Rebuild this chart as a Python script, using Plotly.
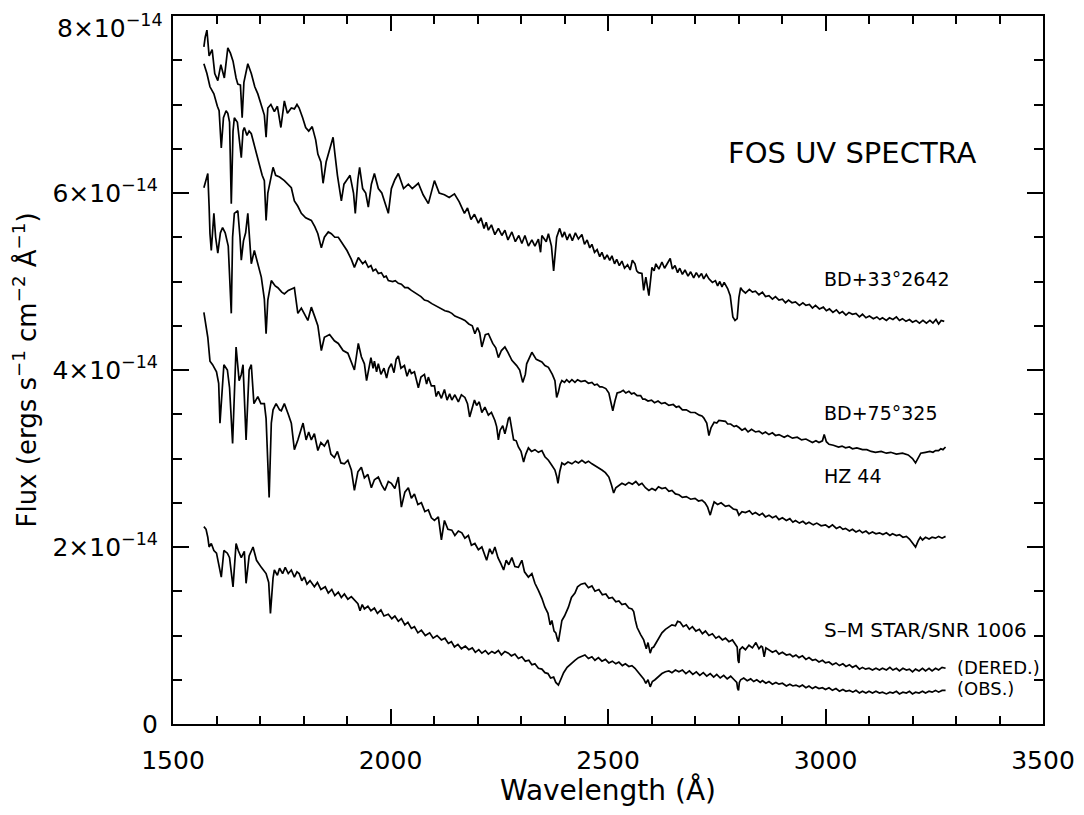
import plotly.graph_objects as go

# ---- data: (wavelength [A], flux [1e-14 erg s-1 cm-2 A-1]) ----
bd33 = [(1571,7.65),(1574,7.76),(1578,7.84),(1583,7.55),(1590,7.62),(1596,7.35),(1603,7.27),(1610,7.45),
        (1618,7.30),(1626,7.64),(1632,7.58),(1638,7.49),(1645,7.30),(1649,7.23),(1655,7.22),(1659,6.85),
        (1663,7.25),(1672,7.46),(1680,7.35),(1688,7.20),(1695,7.12),(1702,7.00),(1710,6.88),(1714,6.63),
        (1718,6.96),(1725,7.00),(1733,6.92),(1740,6.98),(1748,6.74),(1756,7.04),(1763,6.90),(1772,6.96),
        (1779,6.95),(1785,7.00),(1790,6.96),(1798,6.85),(1805,6.74),(1812,6.70),(1820,6.75),(1828,6.60),
        (1833,6.44),(1840,6.35),(1845,6.11),(1852,6.35),(1860,6.50),(1868,6.63),(1872,6.45),(1878,6.20),
        (1887,5.91),(1893,6.10),(1900,6.15),(1907,6.20),(1915,6.00),(1919,5.77),(1925,6.15),(1929,6.29),
        (1936,6.05),(1943,6.00),(1949,5.84),(1956,6.10),(1963,6.22),(1972,6.05),(1980,6.00),(1986,5.90),
        (1995,5.77),(2002,6.05),(2010,6.15),(2018,6.22),(2030,6.05),(2041,6.10),(2050,6.05),(2064,6.11),
        (2075,5.98),(2087,5.88),(2095,6.05),(2101,6.14),(2112,6.00),(2124,5.98),(2135,5.95),(2147,5.99),
        (2158,5.90),(2170,5.77),(2177,5.83),(2185,5.70),(2193,5.76),(2202,5.66),(2208,5.72),(2215,5.60),
        (2220,5.67),(2225,5.58),(2232,5.64),(2240,5.53),(2248,5.60),(2256,5.52),(2263,5.58),(2270,5.47),
        (2279,5.56),(2287,5.45),(2295,5.52),(2302,5.43),(2309,5.52),(2317,5.40),(2325,5.47),(2332,5.40),
        (2340,5.48),(2345,5.33),(2348,5.52),(2358,5.45),(2363,5.54),(2370,5.40),(2375,5.12),(2379,5.40),
        (2382,5.50),(2389,5.60),(2395,5.50),(2400,5.56),(2406,5.47),(2412,5.54),(2418,5.46),(2425,5.55),
        (2432,5.48),(2440,5.53),(2446,5.42),(2452,5.47),(2458,5.38),(2463,5.42),(2469,5.33),(2475,5.36),
        (2481,5.28),(2486,5.33),(2492,5.25),(2498,5.30),(2504,5.24),(2509,5.29),(2515,5.20),(2520,5.25),
        (2526,5.18),(2532,5.23),(2538,5.15),(2545,5.19),(2551,5.13),(2556,5.24),(2562,5.20),(2566,5.12),
        (2570,5.10),(2578,5.09),(2582,4.90),(2587,5.05),(2594,4.84),(2601,5.16),(2606,5.12),(2610,5.20),
        (2617,5.14),(2624,5.22),(2630,5.15),(2636,5.20),(2643,5.26),(2648,5.14),(2654,5.18),(2660,5.10),
        (2665,5.15),(2671,5.08),(2677,5.13),(2684,5.06),(2690,5.11),(2697,5.04),(2703,5.10),(2709,5.05),
        (2715,5.09),(2720,5.03),(2726,5.08),(2732,5.03),(2740,4.99),(2747,5.01),(2752,4.95),(2757,5.00),
        (2762,4.94),(2767,4.99),(2775,4.92),(2781,4.84),(2787,4.60),(2792,4.56),(2797,4.58),(2801,4.82),
        (2805,4.93),(2809,4.90),(2816,4.87),(2825,4.91),(2832,4.88),(2839,4.89),(2847,4.85),(2855,4.88),
        (2862,4.83),(2870,4.84),(2878,4.80),(2885,4.83),(2893,4.79),(2901,4.80),(2908,4.76),(2915,4.79),
        (2923,4.76),(2931,4.77),(2940,4.73),(2948,4.76),(2955,4.73),(2963,4.74),(2970,4.70),(2977,4.73),
        (2986,4.69),(2995,4.71),(3002,4.67),(3009,4.69),(3017,4.65),(3025,4.68),(3032,4.64),(3039,4.66),
        (3047,4.62),(3054,4.65),(3062,4.63),(3070,4.64),(3078,4.60),(3085,4.63),(3093,4.59),(3101,4.61),
        (3110,4.58),(3118,4.60),(3125,4.57),(3131,4.59),(3140,4.56),(3147,4.59),(3155,4.57),(3163,4.60),
        (3170,4.56),(3177,4.58),(3185,4.55),(3193,4.57),(3200,4.54),(3208,4.56),(3216,4.53),(3224,4.56),
        (3232,4.53),(3240,4.56),(3247,4.53),(3254,4.57),(3260,4.52),(3266,4.56),(3273,4.55)]

bd75 = [(1571,7.46),(1578,7.35),(1585,7.20),(1594,7.12),(1602,6.98),(1606,6.93),(1611,6.51),(1616,6.85),
        (1622,6.93),(1626,6.90),(1630,6.80),(1634,5.88),(1638,6.70),(1641,6.85),(1648,6.80),(1652,6.60),
        (1657,6.40),(1661,6.70),(1664,6.74),(1670,6.65),(1675,6.70),(1680,6.67),(1686,6.55),(1692,6.45),
        (1697,6.33),(1705,6.20),(1710,6.14),(1714,5.69),(1718,6.00),(1722,6.10),(1730,6.29),(1736,6.20),
        (1745,6.18),(1756,6.14),(1765,6.10),(1772,6.06),(1779,5.91),(1787,5.85),(1795,5.77),(1805,5.72),
        (1818,5.69),(1826,5.62),(1833,5.54),(1841,5.38),(1848,5.50),(1857,5.56),(1864,5.54),(1872,5.50),
        (1880,5.50),(1890,5.43),(1900,5.35),(1910,5.25),(1917,5.16),(1926,5.27),(1936,5.20),(1942,5.23),
        (1949,5.16),(1955,5.18),(1960,5.12),(1966,5.14),(1972,5.09),(1979,5.10),(1985,5.05),(1990,5.06),
        (1995,5.01),(2005,5.00),(2011,5.01),(2018,4.98),(2025,4.97),(2033,4.93),(2040,4.93),(2048,4.90),
        (2055,4.88),(2063,4.85),(2070,4.83),(2078,4.79),(2086,4.78),(2095,4.75),(2102,4.73),(2110,4.71),
        (2118,4.69),(2125,4.67),(2133,4.66),(2141,4.64),(2148,4.61),(2155,4.60),(2163,4.58),(2171,4.56),
        (2180,4.52),(2188,4.50),(2194,4.41),(2200,4.48),(2205,4.42),(2210,4.26),(2218,4.40),(2225,4.41),
        (2235,4.30),(2242,4.25),(2248,4.14),(2255,4.22),(2263,4.26),(2270,4.20),(2279,4.11),(2290,4.05),
        (2297,4.00),(2304,3.86),(2310,3.95),(2313,4.07),(2320,4.14),(2325,4.20),(2335,4.12),(2348,4.09),
        (2355,4.05),(2363,4.03),(2372,3.95),(2378,3.88),(2382,3.69),(2386,3.75),(2390,3.84),(2394,3.88),
        (2400,3.86),(2405,3.89),(2411,3.86),(2417,3.89),(2424,3.86),(2430,3.89),(2438,3.87),(2447,3.88),
        (2455,3.85),(2463,3.86),(2469,3.83),(2475,3.84),(2481,3.81),(2486,3.81),(2495,3.79),(2502,3.74),
        (2506,3.65),(2511,3.54),(2516,3.65),(2521,3.74),(2528,3.75),(2535,3.77),(2541,3.74),(2548,3.76),
        (2554,3.73),(2560,3.74),(2567,3.71),(2575,3.71),(2580,3.67),(2585,3.67),(2592,3.65),(2600,3.66),
        (2607,3.63),(2615,3.65),(2623,3.62),(2631,3.63),(2640,3.60),(2650,3.61),(2657,3.58),(2663,3.59),
        (2671,3.55),(2680,3.55),(2690,3.52),(2700,3.52),(2710,3.49),(2716,3.48),(2720,3.46),(2727,3.40),
        (2732,3.26),(2737,3.35),(2744,3.41),(2750,3.40),(2755,3.43),(2763,3.42),(2770,3.42),(2775,3.39),
        (2782,3.39),(2790,3.36),(2795,3.37),(2801,3.35),(2808,3.32),(2815,3.34),(2822,3.30),(2830,3.33),
        (2839,3.30),(2847,3.31),(2855,3.28),(2862,3.30),(2870,3.27),(2878,3.29),(2885,3.26),(2893,3.27),
        (2905,3.24),(2913,3.26),(2924,3.23),(2935,3.24),(2945,3.21),(2955,3.22),(2970,3.18),(2978,3.20),
        (2985,3.18),(2993,3.20),(2997,3.27),(3002,3.19),(3008,3.16),(3018,3.15),(3030,3.13),(3038,3.14),
        (3046,3.12),(3055,3.13),(3062,3.11),(3072,3.12),(3085,3.10),(3095,3.10),(3105,3.08),(3115,3.07),
        (3128,3.08),(3140,3.06),(3150,3.07),(3163,3.05),(3177,3.06),(3190,3.04),(3200,3.00),(3207,2.95),
        (3213,3.00),(3219,3.06),(3230,3.07),(3240,3.08),(3247,3.07),(3253,3.09),(3260,3.09),(3265,3.11),
        (3270,3.10),(3276,3.13)]

hz44 = [(1571,6.06),(1576,6.15),(1580,6.22),(1583,5.85),(1585,5.54),(1588,5.35),(1592,5.70),(1594,5.77),
        (1598,5.50),(1603,5.32),(1609,5.55),(1614,5.61),(1620,5.55),(1627,5.40),(1634,4.64),(1637,5.50),
        (1641,5.77),(1649,5.80),(1654,5.50),(1657,5.24),(1662,5.46),(1667,5.55),(1672,5.77),(1676,5.45),
        (1680,5.20),(1687,5.35),(1695,5.20),(1703,5.05),(1710,4.80),(1714,4.41),(1718,4.79),(1726,5.01),
        (1735,4.95),(1741,4.93),(1750,4.88),(1756,4.86),(1765,4.90),(1779,4.93),(1787,4.64),(1795,4.70),
        (1810,4.56),(1818,4.71),(1826,4.60),(1833,4.50),(1841,4.22),(1848,4.37),(1860,4.40),(1871,4.33),
        (1880,4.30),(1891,4.22),(1902,4.19),(1910,4.10),(1917,4.00),(1926,4.30),(1933,4.15),(1940,4.07),
        (1945,3.88),(1955,4.14),(1960,4.02),(1963,4.10),(1968,3.98),(1972,4.07),(1978,3.95),(1985,4.02),
        (1991,3.91),(1996,4.02),(2002,4.07),(2008,3.97),(2013,4.12),(2018,4.16),(2024,4.02),(2032,4.05),
        (2038,3.93),(2044,4.01),(2048,3.96),(2055,3.98),(2060,3.86),(2064,3.80),(2070,3.92),(2078,3.95),
        (2083,3.84),(2087,3.92),(2094,3.82),(2101,3.82),(2105,3.70),(2110,3.76),(2117,3.68),(2124,3.78),
        (2130,3.66),(2136,3.73),(2141,3.66),(2148,3.72),(2156,3.64),(2163,3.72),(2171,3.69),(2177,3.62),
        (2182,3.47),(2187,3.57),(2193,3.66),(2198,3.60),(2204,3.64),(2210,3.52),(2217,3.58),(2225,3.49),
        (2232,3.52),(2240,3.43),(2244,3.36),(2248,3.21),(2252,3.32),(2258,3.37),(2263,3.28),(2268,3.38),
        (2271,3.45),(2274,3.47),(2278,3.34),(2283,3.21),(2289,3.20),(2294,3.13),(2300,3.08),(2306,2.96),
        (2311,3.05),(2317,3.12),(2324,3.08),(2332,3.10),(2340,3.07),(2348,3.09),(2355,3.02),(2363,2.98),
        (2370,2.93),(2378,2.87),(2382,2.80),(2385,2.72),(2389,2.85),(2394,2.95),(2400,2.93),(2408,2.96),
        (2417,2.94),(2425,2.97),(2432,2.95),(2440,2.98),(2448,2.95),(2455,2.97),(2463,2.94),(2470,2.92),
        (2478,2.89),(2486,2.87),(2494,2.84),(2502,2.79),(2508,2.70),(2513,2.61),(2518,2.67),(2525,2.70),
        (2532,2.72),(2540,2.70),(2548,2.73),(2556,2.71),(2564,2.74),(2571,2.70),(2578,2.72),(2586,2.67),
        (2594,2.64),(2601,2.66),(2609,2.64),(2616,2.68),(2624,2.66),(2632,2.67),(2640,2.63),(2647,2.64),
        (2655,2.60),(2663,2.59),(2671,2.56),(2680,2.57),(2690,2.54),(2700,2.55),(2708,2.52),(2716,2.53),
        (2723,2.50),(2729,2.45),(2735,2.36),(2740,2.45),(2744,2.51),(2752,2.48),(2760,2.50),(2770,2.46),
        (2778,2.47),(2788,2.43),(2796,2.42),(2801,2.36),(2808,2.40),(2816,2.39),(2825,2.41),(2832,2.37),
        (2839,2.39),(2848,2.36),(2855,2.38),(2862,2.34),(2870,2.36),(2878,2.33),(2886,2.35),(2893,2.31),
        (2901,2.33),(2910,2.30),(2918,2.32),(2925,2.28),(2931,2.30),(2940,2.27),(2948,2.29),(2955,2.26),
        (2962,2.28),(2972,2.25),(2980,2.27),(2990,2.24),(3000,2.25),(3008,2.22),(3016,2.25),(3025,2.21),
        (3033,2.23),(3040,2.20),(3046,2.21),(3055,2.18),(3062,2.20),(3070,2.17),(3078,2.19),(3085,2.16),
        (3093,2.18),(3100,2.15),(3108,2.17),(3116,2.15),(3124,2.16),(3132,2.14),(3140,2.16),(3148,2.13),
        (3154,2.15),(3163,2.13),(3170,2.14),(3178,2.11),(3186,2.12),(3193,2.09),(3200,2.05),(3207,2.00),
        (3213,2.07),(3218,2.11),(3223,2.08),(3230,2.11),(3238,2.09),(3245,2.11),(3253,2.10),(3260,2.12),
        (3268,2.10),(3276,2.12)]

sm_dered = [(1571,4.65),(1576,4.50),(1580,4.37),(1585,4.10),(1591,4.06),(1600,3.98),(1605,3.85),(1608,3.40),
            (1612,3.75),(1617,4.06),(1625,4.00),(1630,3.80),(1637,3.17),(1645,4.26),(1652,3.88),(1657,3.95),
            (1661,4.06),(1668,3.21),(1675,4.00),(1680,4.06),(1686,3.62),(1695,3.70),(1702,3.62),(1710,3.62),
            (1714,3.45),(1721,2.56),(1726,3.40),(1730,3.55),(1737,3.62),(1745,3.55),(1749,3.54),(1756,3.62),
            (1765,3.50),(1772,3.40),(1779,3.10),(1787,3.21),(1799,3.40),(1806,3.21),(1812,3.30),(1818,3.21),
            (1825,3.28),(1833,3.09),(1840,3.18),(1848,3.14),(1856,3.21),(1863,3.05),(1871,3.01),(1878,3.08),
            (1886,2.95),(1894,2.94),(1902,2.98),(1910,2.87),(1917,2.64),(1925,2.85),(1933,2.90),(1940,2.78),
            (1948,2.82),(1956,2.67),(1963,2.76),(1972,2.79),(1980,2.70),(1987,2.64),(1995,2.74),(2002,2.72),
            (2010,2.66),(2018,2.79),(2025,2.45),(2033,2.62),(2041,2.67),(2048,2.55),(2055,2.60),(2063,2.48),
            (2071,2.50),(2079,2.40),(2087,2.42),(2094,2.33),(2101,2.30),(2110,2.34),(2117,2.08),(2124,2.30),
            (2132,2.20),(2141,2.19),(2148,2.13),(2156,2.18),(2164,2.16),(2171,2.10),(2179,2.13),(2186,2.02),
            (2194,2.04),(2202,1.97),(2210,2.00),(2215,1.93),(2221,1.85),(2228,1.98),(2234,1.92),(2240,2.00),
            (2247,1.88),(2254,1.81),(2260,1.74),(2266,1.85),(2272,1.80),(2279,1.88),(2286,1.78),(2294,1.77),
            (2302,1.85),(2308,1.72),(2317,1.66),(2325,1.70),(2332,1.59),(2340,1.51),(2348,1.42),(2355,1.32),
            (2362,1.25),(2367,1.12),(2371,1.17),(2376,1.05),(2380,1.03),(2383,0.97),(2386,0.93),(2390,1.05),
            (2394,1.17),(2400,1.22),(2409,1.32),(2416,1.43),(2424,1.48),(2430,1.55),(2438,1.58),(2447,1.59),
            (2455,1.54),(2463,1.56),(2470,1.50),(2479,1.52),(2487,1.46),(2495,1.47),(2502,1.42),(2510,1.43),
            (2518,1.38),(2525,1.39),(2532,1.35),(2540,1.36),(2548,1.31),(2555,1.30),(2559,1.27),(2563,1.17),
            (2567,1.09),(2575,1.01),(2582,0.95),(2588,0.85),(2592,0.92),(2597,0.80),(2601,0.86),(2605,0.87),
            (2612,0.93),(2618,0.98),(2624,1.03),(2632,1.07),(2640,1.10),(2647,1.12),(2655,1.11),(2660,1.16),
            (2666,1.15),(2673,1.10),(2680,1.12),(2687,1.07),(2694,1.10),(2702,1.05),(2710,1.07),(2717,1.02),
            (2724,1.05),(2732,1.00),(2740,1.02),(2748,0.97),(2755,0.99),(2763,0.95),(2770,0.97),(2778,0.93),
            (2786,0.95),(2793,0.90),(2797,0.87),(2799,0.72),(2801,0.69),(2803,0.84),(2809,0.87),(2816,0.84),
            (2824,0.89),(2832,0.86),(2840,0.92),(2847,0.85),(2852,0.88),(2855,0.87),(2859,0.76),(2863,0.86),
            (2870,0.84),(2878,0.81),(2886,0.83),(2893,0.79),(2901,0.81),(2910,0.78),(2918,0.79),(2925,0.76),
            (2932,0.78),(2939,0.75),(2947,0.77),(2955,0.73),(2962,0.75),(2970,0.72),(2977,0.73),(2985,0.70),
            (2993,0.72),(3000,0.69),(3008,0.70),(3016,0.67),(3024,0.69),(3032,0.66),(3040,0.68),(3047,0.65),
            (3055,0.67),(3062,0.64),(3070,0.66),(3078,0.62),(3085,0.64),(3092,0.62),(3100,0.63),(3108,0.61),
            (3116,0.63),(3124,0.61),(3131,0.63),(3140,0.61),(3148,0.64),(3155,0.61),(3163,0.63),(3170,0.60),
            (3178,0.63),(3186,0.61),(3193,0.62),(3200,0.59),(3207,0.62),(3215,0.60),(3223,0.63),(3230,0.60),
            (3238,0.63),(3245,0.60),(3253,0.63),(3260,0.61),(3268,0.64),(3276,0.63)]

sm_obs = [(1571,2.23),(1576,2.20),(1580,2.11),(1583,2.00),(1588,2.04),(1594,1.96),(1600,1.93),(1608,1.70),
          (1611,1.66),(1617,1.96),(1625,1.93),(1630,1.88),(1638,1.55),(1645,2.04),(1650,1.96),(1657,1.88),
          (1664,1.95),(1668,1.59),(1675,1.90),(1684,2.00),(1692,1.85),(1703,1.77),(1714,1.70),(1720,1.60),
          (1724,1.25),(1730,1.65),(1733,1.74),(1740,1.68),(1745,1.76),(1752,1.70),(1758,1.77),(1765,1.70),
          (1772,1.74),(1779,1.66),(1785,1.72),(1790,1.70),(1796,1.62),(1802,1.66),(1808,1.58),(1815,1.62),
          (1825,1.55),(1832,1.60),(1840,1.52),(1850,1.55),(1857,1.48),(1865,1.52),(1872,1.45),(1880,1.49),
          (1887,1.43),(1894,1.47),(1902,1.41),(1910,1.44),(1917,1.40),(1925,1.36),(1930,1.28),(1935,1.35),
          (1940,1.30),(1948,1.33),(1955,1.28),(1963,1.31),(1970,1.25),(1978,1.29),(1985,1.22),(1995,1.24),
          (2003,1.19),(2010,1.22),(2018,1.16),(2025,1.19),(2033,1.12),(2040,1.15),(2048,1.08),(2055,1.10),
          (2063,1.03),(2071,1.06),(2080,1.00),(2090,1.03),(2098,0.97),(2107,1.00),(2117,0.95),(2125,0.97),
          (2133,0.91),(2140,0.93),(2147,0.87),(2155,0.90),(2163,0.85),(2172,0.88),(2180,0.84),(2188,0.86),
          (2195,0.81),(2203,0.84),(2210,0.80),(2218,0.83),(2225,0.79),(2233,0.82),(2240,0.80),(2248,0.83),
          (2255,0.78),(2263,0.82),(2271,0.80),(2278,0.77),(2286,0.79),(2294,0.74),(2302,0.76),(2310,0.71),
          (2318,0.72),(2325,0.67),(2332,0.68),(2340,0.63),(2348,0.62),(2355,0.58),(2362,0.57),(2368,0.52),
          (2375,0.53),(2380,0.47),(2386,0.44),(2392,0.52),(2398,0.58),(2406,0.64),(2414,0.68),(2424,0.72),
          (2432,0.75),(2440,0.77),(2447,0.78),(2455,0.74),(2463,0.76),(2470,0.72),(2478,0.75),(2486,0.71),
          (2494,0.73),(2502,0.69),(2510,0.71),(2518,0.68),(2525,0.70),(2533,0.66),(2540,0.68),(2548,0.65),
          (2555,0.66),(2562,0.63),(2570,0.58),(2577,0.54),(2582,0.51),(2587,0.46),(2592,0.50),(2597,0.42),
          (2602,0.48),(2608,0.50),(2616,0.54),(2624,0.57),(2632,0.59),(2640,0.60),(2647,0.58),(2655,0.61),
          (2663,0.59),(2671,0.61),(2679,0.57),(2687,0.60),(2695,0.56),(2703,0.59),(2711,0.55),(2719,0.58),
          (2727,0.54),(2735,0.57),(2743,0.53),(2750,0.56),(2758,0.52),(2766,0.55),(2774,0.51),(2782,0.54),
          (2790,0.50),(2796,0.47),(2798,0.40),(2800,0.38),(2802,0.47),(2805,0.50),(2812,0.52),(2820,0.49),
          (2828,0.51),(2835,0.48),(2842,0.50),(2850,0.47),(2855,0.49),(2863,0.46),(2870,0.48),(2878,0.45),
          (2886,0.47),(2893,0.45),(2901,0.46),(2910,0.43),(2918,0.45),(2925,0.43),(2932,0.44),(2940,0.42),
          (2947,0.44),(2955,0.41),(2962,0.43),(2970,0.40),(2977,0.42),(2985,0.40),(2993,0.41),(3000,0.39),
          (3008,0.41),(3016,0.38),(3024,0.40),(3032,0.37),(3040,0.39),(3047,0.37),(3055,0.38),(3063,0.36),
          (3070,0.38),(3078,0.35),(3085,0.37),(3093,0.35),(3100,0.37),(3108,0.35),(3116,0.37),(3124,0.35),
          (3131,0.36),(3140,0.34),(3148,0.36),(3155,0.35),(3163,0.37),(3170,0.34),(3178,0.36),(3186,0.35),
          (3193,0.37),(3200,0.34),(3207,0.36),(3215,0.35),(3223,0.37),(3230,0.35),(3238,0.37),(3245,0.36),
          (3253,0.38),(3260,0.36),(3268,0.38),(3276,0.38)]

series = [bd33, bd75, hz44, sm_dered, sm_obs]

y_tick_vals = [0, 2, 4, 6, 8]
y_tick_text = ["0", "2×10<sup>−14</sup>", "4×10<sup>−14</sup>", "6×10<sup>−14</sup>", "8×10<sup>−14</sup>"]
x_tick_vals = [1500, 2000, 2500, 3000, 3500]

labels = [  # (text, wavelength, flux, size, anchor)
    ("FOS UV SPECTRA", 3062, 6.45, 29, "center"),
    ("BD+33°2642", 2993, 5.03, 19, "left"),
    ("BD+75°325", 2993, 3.51, 19, "left"),
    ("HZ 44", 2993, 2.80, 19, "left"),
    ("S–M STAR/SNR 1006", 2993, 1.06, 20, "left"),
    ("(DERED.)", 3298, 0.64, 18, "left"),
    ("(OBS.)", 3298, 0.40, 18, "left"),
]

SCALE = 1e-14
FONT = "DejaVu Sans"
TICK_SIZE = 25

fig = go.Figure()
for s in series:
    fig.add_trace(go.Scatter(
        x=[p[0] for p in s], y=[p[1] * SCALE for p in s],
        mode="lines", line=dict(color="black", width=1.7),
        showlegend=False, hoverinfo="skip"))

for text, xv, yv, size, anchor in labels:
    fig.add_annotation(x=xv, y=yv * SCALE, text=text, showarrow=False,
                       xanchor=anchor, yanchor="middle",
                       font=dict(family=FONT, size=size, color="black"))

# the top y tick label sits a little below its tick (as in the reference), so draw it as an annotation
shown_text = list(y_tick_text)
shown_text[-1] = ""
fig.add_annotation(xref="paper", x=0, y=y_tick_vals[-1] * SCALE, text=y_tick_text[-1],
                   showarrow=False, xanchor="right", yanchor="middle", xshift=-8, yshift=-10,
                   font=dict(family=FONT, size=TICK_SIZE, color="black"))

common = dict(showline=True, linecolor="black", linewidth=2, mirror="ticks",
              ticks="inside", tickcolor="black", tickwidth=1.5,
              showgrid=False, zeroline=False, automargin=False,
              ticklabeloverflow="allow")

fig.update_xaxes(range=[1500, 3500], tickmode="array", tickvals=x_tick_vals,
                 ticklen=15, ticklabelstandoff=13,
                 minor=dict(tickmode="linear", tick0=1500, dtick=100, ticklen=8,
                            ticks="inside", tickcolor="black", tickwidth=1.5, showgrid=False),
                 tickfont=dict(family=FONT, size=TICK_SIZE, color="black"),
                 title=dict(text="Wavelength (Å)", standoff=19,
                            font=dict(family=FONT, size=28, color="black")),
                 **common)
fig.update_yaxes(range=[0, 8 * SCALE], tickmode="array",
                 tickvals=[v * SCALE for v in y_tick_vals], ticktext=shown_text,
                 ticklen=16, ticklabelstandoff=8,
                 minor=dict(tickmode="linear", tick0=0, dtick=0.5 * SCALE, ticklen=9,
                            ticks="inside", tickcolor="black", tickwidth=1.5, showgrid=False),
                 tickfont=dict(family=FONT, size=TICK_SIZE, color="black"),
                 title=dict(text="Flux (ergs s<sup>−1</sup> cm<sup>−2</sup> Å<sup>−1</sup>)", standoff=8,
                            font=dict(family=FONT, size=26, color="black")),
                 **common)

# the page body has an 8 px margin; size the figure so the plot box lands where the reference has it
fig.update_layout(width=1068, height=799, plot_bgcolor="white", paper_bgcolor="white",
                  margin=dict(l=165, r=33, t=8, b=83))

fig.write_html("out.html")
